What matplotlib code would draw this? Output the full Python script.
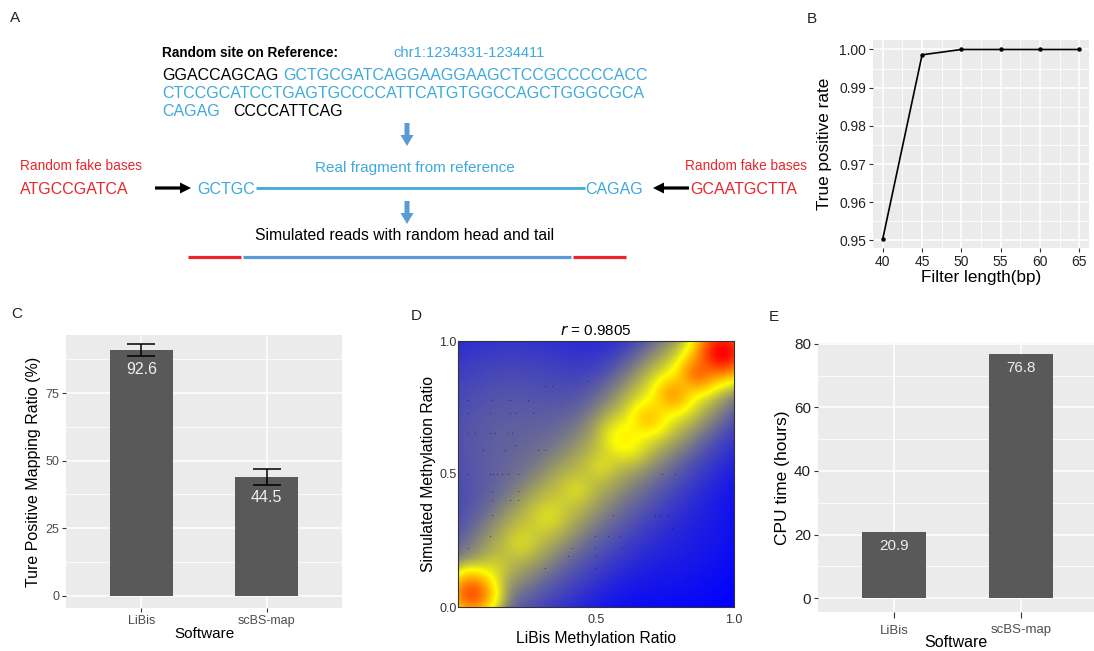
import numpy as np
import matplotlib
matplotlib.use('Agg')
import matplotlib.pyplot as plt
from matplotlib.colors import LinearSegmentedColormap
from matplotlib.patches import FancyArrow
from matplotlib.ticker import MultipleLocator, FixedLocator, FormatStrFormatter

plt.rcParams['font.family'] = ['Liberation Sans', 'DejaVu Sans']

# ---------------- data ----------------
# Panel A (schematic)
REGION = "chr1:1234331-1234411"
SEQ_LEFT_FLANK = "GGACCAGCAG"
SEQ_FRAGMENT_LINES = ["GCTGCGATCAGGAAGGAAGCTCCGCCCCCACC",
                      "CTCCGCATCCTGAGTGCCCCATTCATGTGGCCAGCTGGGCGCA",
                      "CAGAG"]
SEQ_RIGHT_FLANK = "CCCCATTCAG"
FAKE_HEAD = "ATGCCGATCA"
FAKE_TAIL = "GCAATGCTTA"
FRAG_HEAD = "GCTGC"
FRAG_TAIL = "CAGAG"

# Panel B
B_LENGTH = [40, 45, 50, 55, 60, 65]
B_TPR = [0.9505, 0.9986, 1.0, 1.0, 1.0, 1.0]

# Panel C
SOFTWARE = ["LiBis", "scBS-map"]
C_RATIO = [91.0, 43.9]
C_ERR_LO = [88.8, 40.9]
C_ERR_HI = [93.1, 46.9]
C_LABELS = ["92.6", "44.5"]

# Panel D: density components (centre x, centre y, weight, sd along diag, sd across diag)
D_CX = [0.05, 0.30, 0.80, 0.60, 0.69, 0.78, 0.87, 0.96, 0.23, 0.33, 0.43, 0.52, 0.13, 0.20, 0.70, 0.50]
D_CY = [0.05, 0.32, 0.82, 0.63, 0.71, 0.80, 0.88, 0.96, 0.24, 0.34, 0.44, 0.53, 0.14, 0.62, 0.35, 0.51]
D_W  = [0.38, 0.020, 0.05, 0.04, 0.07, 0.12, 0.22, 0.80, 0.008, 0.008, 0.008, 0.010, 0.012, 0.0018, 0.0001, 0.006]
D_SA = [0.045, 0.22, 0.20, 0.045, 0.04, 0.04, 0.04, 0.05, 0.035, 0.035, 0.035, 0.035, 0.035, 0.20, 0.16, 0.50]
D_SP = [0.045, 0.068, 0.075, 0.05, 0.04, 0.04, 0.04, 0.05, 0.035, 0.035, 0.035, 0.035, 0.035, 0.20, 0.16, 0.12]
D_DOT_X = [0.315, 0.339, 0.472, 0.037, 0.122, 0.188, 0.255, 0.037, 0.116, 0.188, 0.206, 0.273,
           0.037, 0.062, 0.116, 0.134, 0.182, 0.194, 0.206, 0.092, 0.170, 0.291, 0.315,
           0.037, 0.116, 0.128, 0.140, 0.158, 0.182, 0.218, 0.738, 0.786, 0.122, 0.218,
           0.122, 0.188, 0.218, 0.122, 0.563, 0.713, 0.732, 0.762, 0.774, 0.116, 0.496,
           0.545, 0.587, 0.037, 0.412, 0.496, 0.593, 0.400, 0.496, 0.315, 0.496]
D_DOT_Y = [0.830, 0.830, 0.850, 0.780, 0.780, 0.780, 0.780, 0.730, 0.730, 0.730, 0.730, 0.730,
           0.654, 0.654, 0.654, 0.654, 0.654, 0.654, 0.610, 0.592, 0.592, 0.592, 0.592,
           0.500, 0.500, 0.500, 0.500, 0.500, 0.500, 0.500, 0.500, 0.500, 0.435, 0.435,
           0.403, 0.403, 0.403, 0.347, 0.347, 0.347, 0.347, 0.347, 0.297, 0.266, 0.266,
           0.266, 0.266, 0.222, 0.222, 0.222, 0.222, 0.190, 0.190, 0.146, 0.146]
D_R = "0.9805"

# Panel E
E_CPU = [20.9, 76.8]
E_LABELS = ["20.9", "76.8"]

# ---------------- figure ----------------
W, H = 1094, 651
fig = plt.figure(figsize=(W / 100, H / 100), dpi=100)


def box(x0, y0, x1, y1):
    return [x0 / W, 1 - y1 / H, (x1 - x0) / W, (y1 - y0) / H]


BLUE_T = '#3FA9DB'
RED_T = '#E8262C'
ARROW_BLUE = '#5B9BD5'
GG_BG = '#EBEBEB'
TICK_C = '#4D4D4D'

# ---------------- Panel A ----------------
axA = fig.add_axes([0, 0, 1, 1], zorder=-1)
axA.set_xlim(0, W)
axA.set_ylim(H, 0)
axA.axis('off')

for lab, (x, y) in zip("ABCDE", [(15, 18), (812, 19), (17, 314), (416, 316), (774, 317)]):
    axA.text(x, y, lab, fontsize=11, ha='center', va='center', color='#222222')

axA.text(162, 53, "Random site on Reference:", fontsize=9.8, fontweight='bold', ha='left', va='center')
axA.text(393, 53, REGION, fontsize=10.6, color=BLUE_T, ha='left', va='center')
seq_fs = 11.5
axA.text(162, 75, SEQ_LEFT_FLANK, fontsize=seq_fs, ha='left', va='center')
axA.text(283, 75, SEQ_FRAGMENT_LINES[0], fontsize=seq_fs, color=BLUE_T, ha='left', va='center')
axA.text(162, 94, SEQ_FRAGMENT_LINES[1], fontsize=seq_fs, color=BLUE_T, ha='left', va='center')
axA.text(162, 112, SEQ_FRAGMENT_LINES[2], fontsize=seq_fs, color=BLUE_T, ha='left', va='center')
axA.text(233, 112, SEQ_RIGHT_FLANK, fontsize=seq_fs, ha='left', va='center')

axA.add_patch(FancyArrow(407, 123, 0, 23, width=5, head_width=13, head_length=11,
                         length_includes_head=True, color=ARROW_BLUE, lw=0))
axA.add_patch(FancyArrow(407, 201, 0, 23, width=5, head_width=13, head_length=11,
                         length_includes_head=True, color=ARROW_BLUE, lw=0))

axA.text(20, 166, "Random fake bases", fontsize=9.8, color=RED_T, ha='left', va='center')
axA.text(20, 189, FAKE_HEAD, fontsize=seq_fs, color=RED_T, ha='left', va='center')
axA.text(685, 166, "Random fake bases", fontsize=9.8, color=RED_T, ha='left', va='center')
axA.text(690, 189, FAKE_TAIL, fontsize=seq_fs, color=RED_T, ha='left', va='center')

axA.add_patch(FancyArrow(155, 188, 36, 0, width=3.2, head_width=11, head_length=11,
                         length_includes_head=True, color='black', lw=0))
axA.add_patch(FancyArrow(689, 188, -36, 0, width=3.2, head_width=11, head_length=11,
                         length_includes_head=True, color='black', lw=0))

axA.text(197, 189, FRAG_HEAD, fontsize=seq_fs, color=BLUE_T, ha='left', va='center')
axA.text(643, 189, FRAG_TAIL, fontsize=seq_fs, color=BLUE_T, ha='right', va='center')
axA.plot([256, 585], [188, 188], color=BLUE_T, lw=2.0, solid_capstyle='butt')
axA.text(415, 168, "Real fragment from reference", fontsize=11, color=BLUE_T, ha='center', va='center')

axA.text(405, 236, "Simulated reads with random head and tail", fontsize=11.3, ha='center', va='center')
axA.plot([188, 241], [257, 257], color=RED_T, lw=2.3, solid_capstyle='butt')
axA.plot([243, 571], [257, 257], color=ARROW_BLUE, lw=2.3, solid_capstyle='butt')
axA.plot([573, 626], [257, 257], color=RED_T, lw=2.3, solid_capstyle='butt')


def gg_style(ax):
    ax.set_facecolor(GG_BG)
    for s in ax.spines.values():
        s.set_visible(False)
    ax.set_axisbelow(True)
    ax.grid(which='major', color='white', lw=1.1)
    ax.grid(which='minor', color='white', lw=0.55)
    ax.tick_params(which='major', length=3, width=0.8, color='#333333', labelcolor=TICK_C, pad=2)
    ax.tick_params(which='minor', length=0)


# ---------------- Panel B ----------------
axB = fig.add_axes(box(873, 40, 1089, 248))
gg_style(axB)
axB.plot(B_LENGTH, B_TPR, color='black', lw=1.2, marker='o', ms=2.2)
axB.set_xlim(38.75, 66.25)
axB.set_ylim(0.94803, 1.00248)
axB.xaxis.set_major_locator(MultipleLocator(5))
axB.xaxis.set_minor_locator(MultipleLocator(2.5))
axB.yaxis.set_major_locator(MultipleLocator(0.01))
axB.yaxis.set_minor_locator(MultipleLocator(0.005))
axB.yaxis.set_major_formatter(FormatStrFormatter('%.2f'))
axB.tick_params(axis='both', labelsize=10, labelcolor='#222222')
axB.set_xlabel("Filter length(bp)", fontsize=12.3, labelpad=1)
axB.set_ylabel("True positive rate", fontsize=12.3, labelpad=5)

# ---------------- Panel C ----------------
axC = fig.add_axes(box(66, 335, 342, 608))
gg_style(axC)
xc = np.arange(1, len(SOFTWARE) + 1)
axC.bar(xc, C_RATIO, width=0.5, color='#595959', zorder=2)
yerr = [np.array(C_RATIO) - np.array(C_ERR_LO), np.array(C_ERR_HI) - np.array(C_RATIO)]
axC.errorbar(xc, C_RATIO, yerr=yerr, fmt='none', ecolor='black', elinewidth=1.1,
             capsize=10, capthick=1.1, zorder=3)
for x, v, lab in zip(xc, C_RATIO, C_LABELS):
    axC.annotate(lab, (x, v), xytext=(0, -20), textcoords='offset pixels', ha='center', va='center',
                 fontsize=11.5, color='#EEEEEE', zorder=4)
axC.set_xlim(0.4, 2.6)
axC.set_ylim(-4.5, 96.5)
axC.set_xticks(xc)
axC.set_xticklabels(SOFTWARE)
axC.yaxis.set_major_locator(FixedLocator([0, 25, 50, 75]))
axC.yaxis.set_minor_locator(FixedLocator([12.5, 37.5, 62.5, 87.5]))
axC.tick_params(axis='both', labelsize=9)
axC.set_xlabel("Software", fontsize=11, labelpad=0)
axC.set_ylabel("Ture Positive Mapping Ratio (%)", fontsize=11.5, labelpad=3)

# ---------------- Panel D ----------------
axD = fig.add_axes(box(458, 341, 734, 607))
n = 300
g = (np.arange(n) + 0.5) / n
X, Y = np.meshgrid(g, g)
dens = np.zeros_like(X)
for cx, cy, w, sa, sp in zip(D_CX, D_CY, D_W, D_SA, D_SP):
    u = ((X - cx) + (Y - cy)) / np.sqrt(2)
    v = (-(X - cx) + (Y - cy)) / np.sqrt(2)
    dens += w * np.exp(-0.5 * (u ** 2 / sa ** 2 + v ** 2 / sp ** 2))
q = dens ** 0.25
t = (q - q.min()) / (q.max() - q.min())
cmap = LinearSegmentedColormap.from_list('byr', ['#0000FF', '#FFFF00', '#FF0000'])
axD.imshow(t, extent=(0, 1, 0, 1), origin='lower', cmap=cmap, vmin=0, vmax=1,
           aspect='auto', interpolation='bilinear')
axD.scatter(D_DOT_X, D_DOT_Y, s=0.7, color='#1a1a40', alpha=0.7, lw=0, zorder=3)
axD.set_xlim(0, 1)
axD.set_ylim(0, 1)
for s in axD.spines.values():
    s.set_color('#333333')
    s.set_linewidth(0.8)
axD.set_xticks([0.5, 1.0])
axD.set_xticklabels(["0.5", "1.0"])
axD.set_yticks([0.0, 0.5, 1.0])
axD.set_yticklabels(["0.0", "0.5", "1.0"])
axD.tick_params(length=0, labelsize=9, labelcolor='#333333')
axD.tick_params(axis='y', pad=1)
axD.tick_params(axis='x', pad=5)
axD.set_xlabel("LiBis Methylation Ratio", fontsize=11.3, labelpad=4)
axD.set_ylabel("Simulated Methylation Ratio", fontsize=11.3, labelpad=2)
axD.set_title(r"$\it{r}$ = " + D_R, fontsize=11, pad=4)

# ---------------- Panel E ----------------
axE = fig.add_axes(box(818, 343, 1094, 612))
gg_style(axE)
xe = np.arange(1, len(SOFTWARE) + 1)
axE.bar(xe, E_CPU, width=0.5, color='#595959', zorder=2)
for x, v, lab in zip(xe, E_CPU, E_LABELS):
    axE.annotate(lab, (x, v), xytext=(0, -14), textcoords='offset pixels', ha='center', va='center',
                 fontsize=11, color='#EEEEEE', zorder=4)
axE.set_xlim(0.4, 2.573)
axE.set_ylim(-4.4, 80.3)
axE.set_xticks(xe)
axE.set_xticklabels(SOFTWARE)
axE.yaxis.set_major_locator(FixedLocator([0, 20, 40, 60, 80]))
axE.yaxis.set_minor_locator(FixedLocator([10, 30, 50, 70]))
axE.tick_params(axis='y', labelsize=11, labelcolor='#222222')
axE.tick_params(axis='x', labelsize=9.5, length=4, pad=5)
axE.set_xlabel("Software", fontsize=11.5, labelpad=-1)
axE.set_ylabel("CPU time (hours)", fontsize=12.5, labelpad=3)

fig.savefig('out.png', dpi=100, facecolor='white')
